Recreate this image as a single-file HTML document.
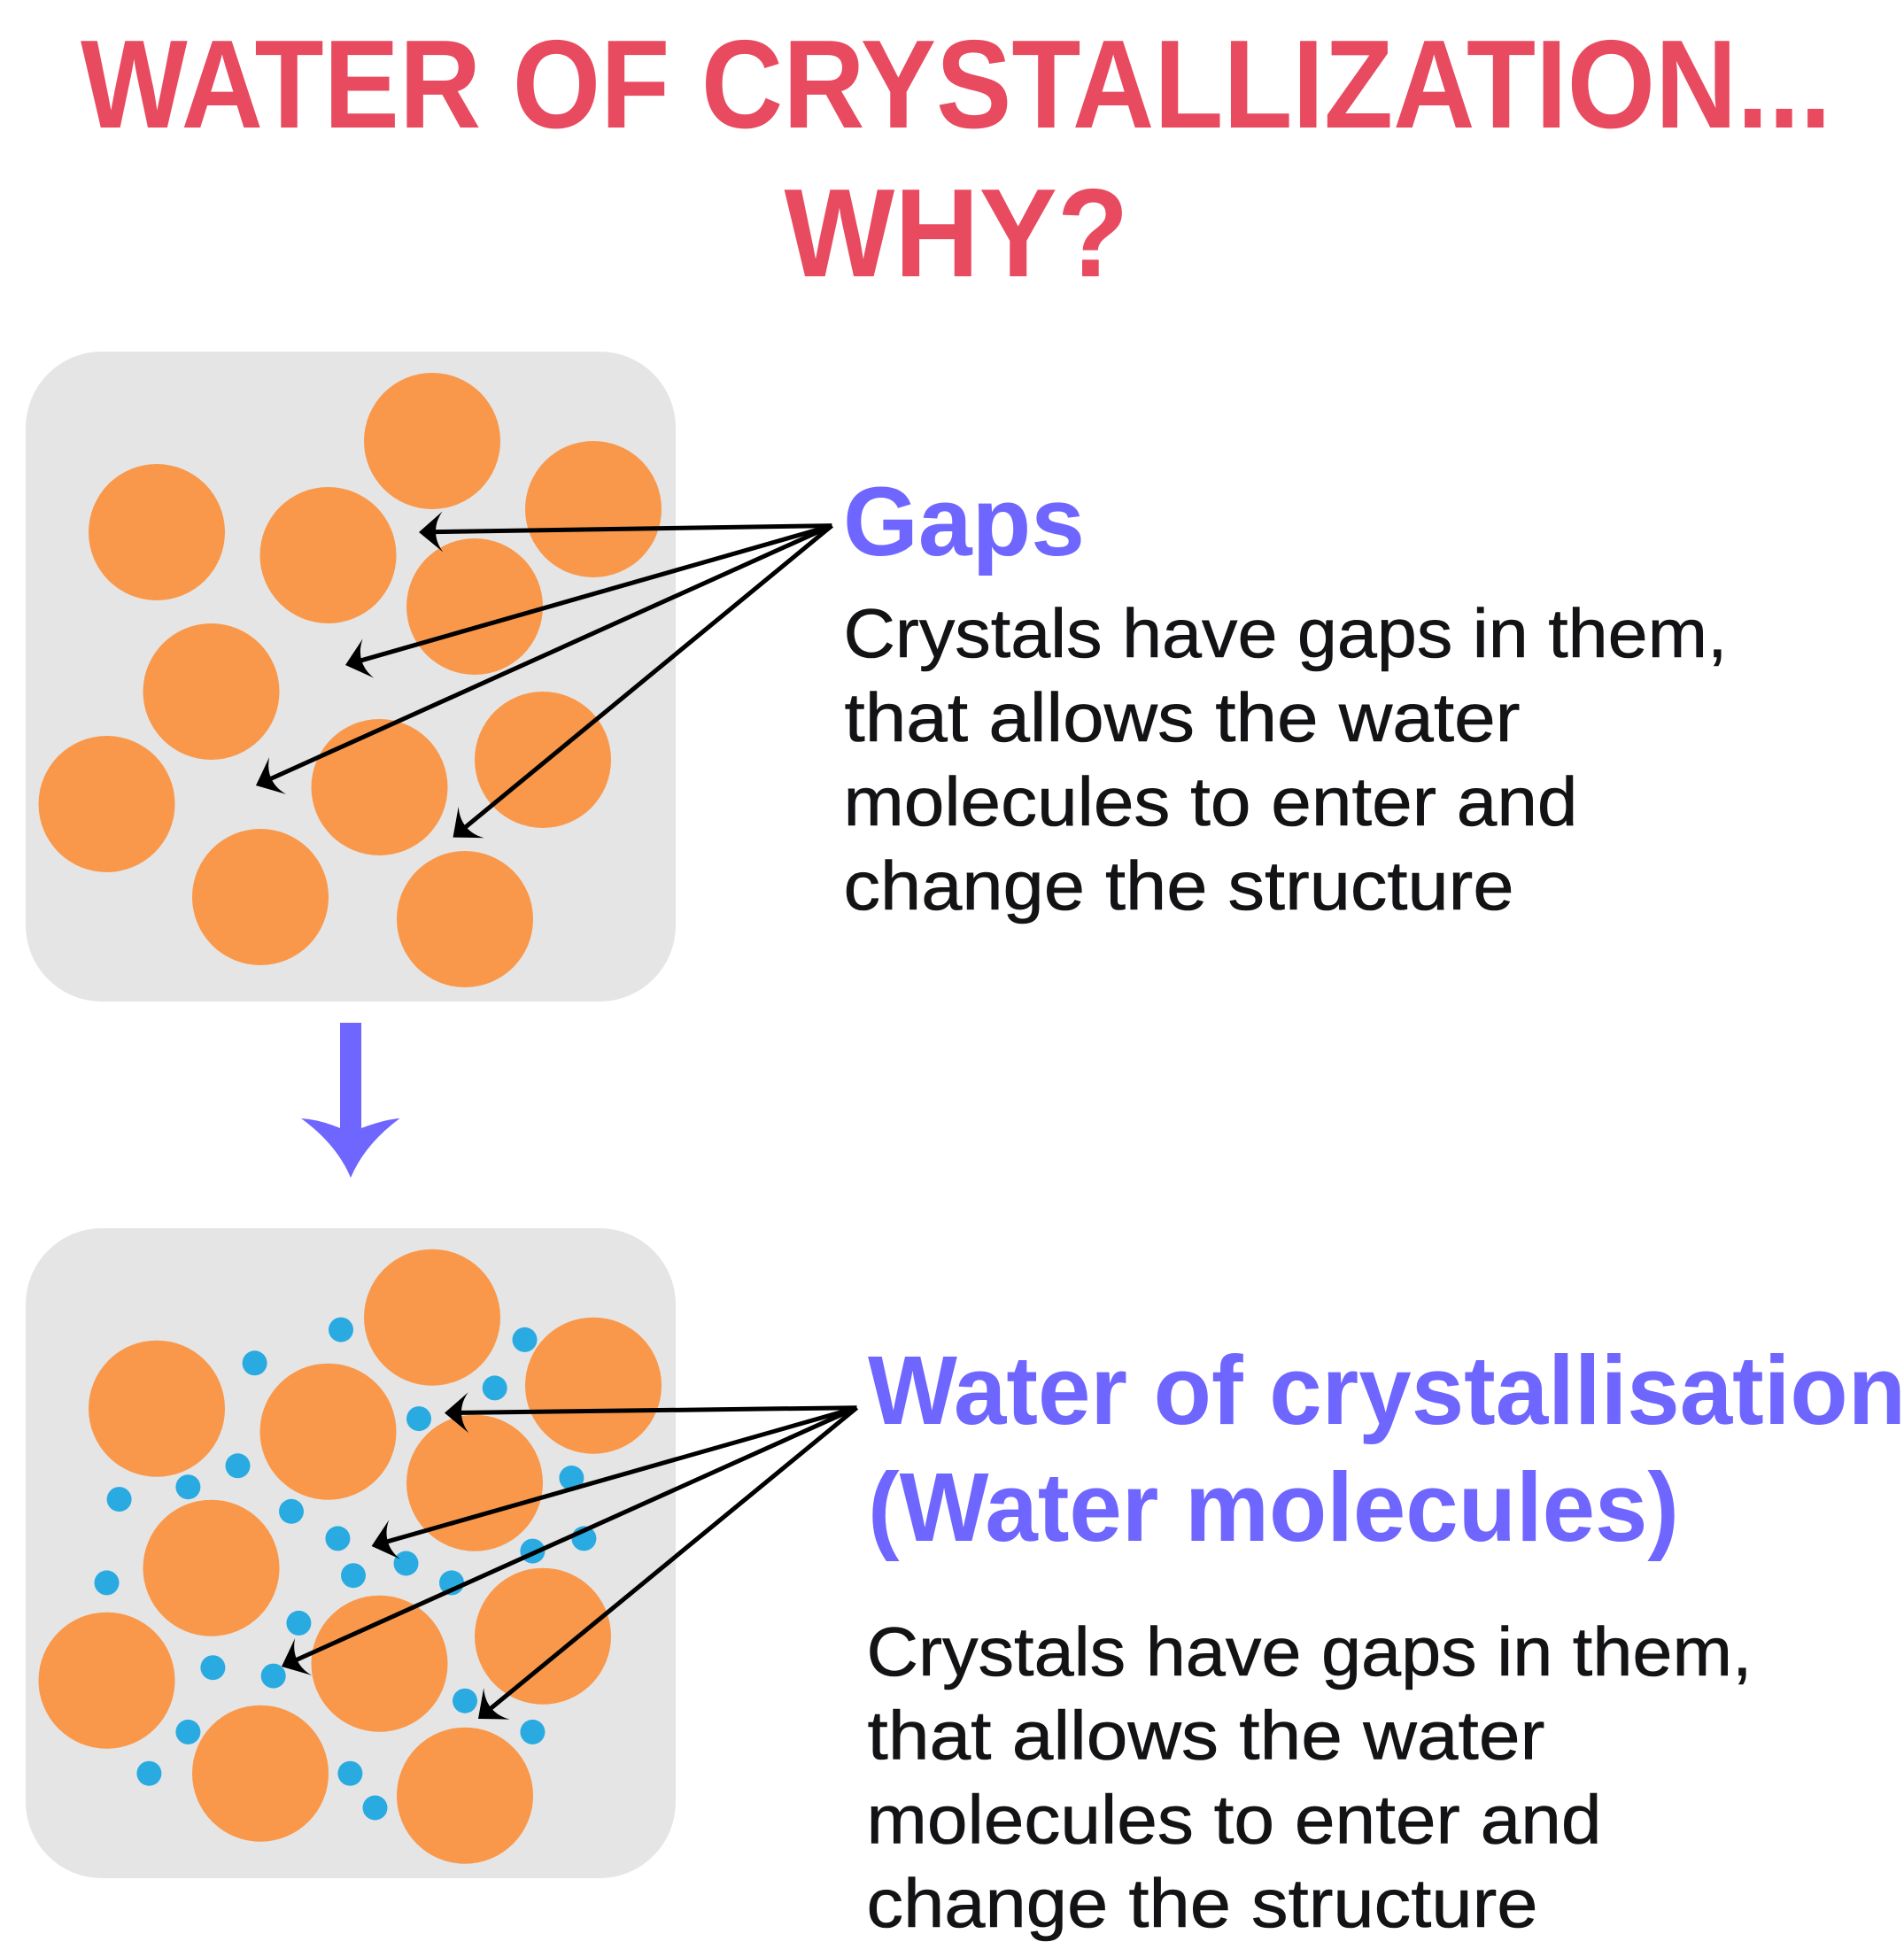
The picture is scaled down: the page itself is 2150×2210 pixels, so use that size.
<!DOCTYPE html>
<html lang="en">
<head>
<meta charset="utf-8">
<title>Water of crystallization</title>
<style>
html,body{margin:0;padding:0;background:#fff;}
svg{display:block;}
text{font-family:"Liberation Sans",sans-serif;}
.t{font-weight:700;font-size:142px;fill:#E84A5F;}
.h{font-weight:700;font-size:110px;fill:#6E66FF;}
.b{font-size:78px;fill:#131316;stroke:#131316;stroke-width:.6px;}
.o{fill:#F9984A;}
.d{fill:#29ABE2;}
.a{stroke:#000;stroke-width:5;fill:none;marker-end:url(#head);}
</style>
</head>
<body>
<svg width="2150" height="2210" viewBox="0 0 2150 2210" xmlns="http://www.w3.org/2000/svg">
<defs>
<marker id="head" markerUnits="userSpaceOnUse" markerWidth="40" markerHeight="60" refX="17" refY="30" orient="auto">
<path d="M27,30 Q14,19 0,7 Q8,18 8,30 Q8,42 0,53 Q14,41 27,30 Z" fill="#000"/>
</marker>
</defs>
<rect width="2150" height="2210" fill="#fff"/>

<text class="t" x="91" y="144" textLength="1977" lengthAdjust="spacingAndGlyphs">WATER OF CRYSTALLIZATION...</text>
<text class="t" x="885.500" y="312" textLength="389" lengthAdjust="spacingAndGlyphs">WHY?</text>

<!-- top panel -->
<rect x="29" y="397" width="734" height="734" rx="86" ry="86" fill="#E5E5E5"/>
<g class="o">
<circle cx="488" cy="498" r="77"/>
<circle cx="670" cy="575" r="77"/>
<circle cx="177" cy="601" r="77"/>
<circle cx="370.500" cy="627" r="77"/>
<circle cx="536" cy="685" r="77"/>
<circle cx="238.500" cy="781" r="77"/>
<circle cx="613" cy="858" r="77"/>
<circle cx="428.500" cy="889" r="77"/>
<circle cx="120.500" cy="908" r="77"/>
<circle cx="294" cy="1013" r="77"/>
<circle cx="525" cy="1038" r="77"/>
</g>
<line class="a" x1="939.400" y1="593.600" x2="483" y2="600.800"/>
<line class="a" x1="939.400" y1="593.600" x2="399.600" y2="748.200"/>
<line class="a" x1="939.400" y1="593.600" x2="298.100" y2="882.900"/>
<line class="a" x1="939.400" y1="593.600" x2="519.200" y2="939.300"/>

<!-- down arrow -->
<path d="M384,1155 H408 V1274 Q435,1264 451.500,1263 Q412,1292 396,1330 Q380,1292 340,1263 Q360,1264 384,1274 Z" fill="#6E66FF"/>

<!-- bottom panel -->
<rect x="29" y="1387" width="734" height="734" rx="86" ry="86" fill="#E5E5E5"/>
<g class="o">
<circle cx="488" cy="1487.700" r="77"/>
<circle cx="670" cy="1564.700" r="77"/>
<circle cx="177" cy="1590.700" r="77"/>
<circle cx="370.500" cy="1616.700" r="77"/>
<circle cx="536" cy="1674.700" r="77"/>
<circle cx="238.500" cy="1770.700" r="77"/>
<circle cx="613" cy="1847.700" r="77"/>
<circle cx="428.500" cy="1878.700" r="77"/>
<circle cx="120.500" cy="1897.700" r="77"/>
<circle cx="294" cy="2002.700" r="77"/>
<circle cx="525" cy="2027.700" r="77"/>
</g>
<g class="d">
<circle cx="385" cy="1501.600" r="14"/>
<circle cx="592.500" cy="1512.900" r="14"/>
<circle cx="287.600" cy="1539.300" r="14"/>
<circle cx="558.700" cy="1567.400" r="14"/>
<circle cx="473" cy="1602.100" r="14"/>
<circle cx="268.500" cy="1655.300" r="14"/>
<circle cx="212.400" cy="1679.200" r="14"/>
<circle cx="134.600" cy="1693.100" r="14"/>
<circle cx="645.400" cy="1669" r="14"/>
<circle cx="329" cy="1706.800" r="14"/>
<circle cx="381.400" cy="1737.400" r="14"/>
<circle cx="458.500" cy="1765.500" r="14"/>
<circle cx="659.400" cy="1737.400" r="14"/>
<circle cx="601.400" cy="1751.600" r="14"/>
<circle cx="399" cy="1779.200" r="14"/>
<circle cx="510" cy="1787.400" r="14"/>
<circle cx="120.500" cy="1787.400" r="14"/>
<circle cx="337.400" cy="1832.900" r="14"/>
<circle cx="240.400" cy="1883.200" r="14"/>
<circle cx="308.700" cy="1892.600" r="14"/>
<circle cx="525" cy="1920.700" r="14"/>
<circle cx="601.400" cy="1955.900" r="14"/>
<circle cx="212.400" cy="1955.900" r="14"/>
<circle cx="168.400" cy="2002.700" r="14"/>
<circle cx="395.400" cy="2002.700" r="14"/>
<circle cx="423.500" cy="2041.500" r="14"/>
</g>
<line class="a" x1="967.500" y1="1589.700" x2="512" y2="1595.500"/>
<line class="a" x1="967.500" y1="1589.700" x2="429.200" y2="1743.200"/>
<line class="a" x1="967.500" y1="1589.700" x2="327.100" y2="1877.900"/>
<line class="a" x1="967.500" y1="1589.700" x2="547.700" y2="1934.600"/>

<!-- top text -->
<text class="h" x="952" y="627" textLength="273" lengthAdjust="spacingAndGlyphs">Gaps</text>
<text class="b" x="952.500" y="742" textLength="998" lengthAdjust="spacingAndGlyphs">Crystals have gaps in them,</text>
<text class="b" x="953.500" y="837" textLength="763" lengthAdjust="spacingAndGlyphs">that allows the water</text>
<text class="b" x="952.500" y="932" textLength="829" lengthAdjust="spacingAndGlyphs">molecules to enter and</text>
<text class="b" x="952.500" y="1027" textLength="757" lengthAdjust="spacingAndGlyphs">change the structure</text>

<!-- bottom text -->
<text class="h" x="980" y="1608" textLength="1172" lengthAdjust="spacingAndGlyphs">Water of crystallisation</text>
<text class="h" x="980" y="1740" textLength="916" lengthAdjust="spacingAndGlyphs">(Water molecules)</text>
<text class="b" x="978.500" y="1892" textLength="1000" lengthAdjust="spacingAndGlyphs">Crystals have gaps in them,</text>
<text class="b" x="979.500" y="1986.700" textLength="765" lengthAdjust="spacingAndGlyphs">that allows the water</text>
<text class="b" x="978.500" y="2081.300" textLength="830" lengthAdjust="spacingAndGlyphs">molecules to enter and</text>
<text class="b" x="978.500" y="2176" textLength="758" lengthAdjust="spacingAndGlyphs">change the structure</text>
</svg>
</body>
</html>
